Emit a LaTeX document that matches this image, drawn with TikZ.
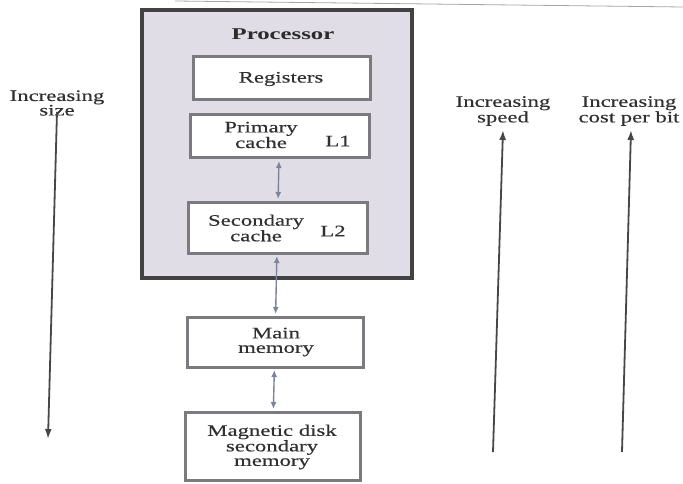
\documentclass[tikz,border=0pt]{standalone}
\usepackage{fontspec}
\usetikzlibrary{arrows.meta}
\newfontfamily\lbl[FakeStretch=1.42,FakeBold=0.35]{Liberation Serif}
\newfontfamily\lblbf[FakeStretch=1.5]{Liberation Serif Bold}
\definecolor{txt}{HTML}{303030}
\definecolor{procfill}{HTML}{E0DDE6}
\definecolor{procedge}{HTML}{424242}
\definecolor{boxedge}{HTML}{7A7A80}
\definecolor{link}{HTML}{7E829A}
\definecolor{axis}{HTML}{474747}
\tikzset{
  lab/.style={text=txt, font=\lbl\fontsize{16}{14.5}\selectfont, align=center, inner sep=0pt},
  membox/.style={draw=boxedge, line width=3pt, fill=white, inner sep=0pt},
  biarrow/.style={draw=link, line width=1.4pt, {Latex[length=7pt,width=6pt]}-{Latex[length=7pt,width=6pt]}, shorten <=1.5pt, shorten >=1.5pt},
  trend/.style={draw=axis, line width=1.8pt, -{Latex[length=10pt,width=7pt]}}
}
\begin{document}
\begin{tikzpicture}[x=1pt,y=-1pt]
\useasboundingbox (0,0) rectangle (683,484);
% thin rule along the top edge
\draw[gray!70, line width=0.8pt] (175,1) -- (683,7);

% processor enclosure
\node[draw=procedge, fill=procfill, line width=4pt, minimum width=270pt, minimum height=268pt, inner sep=0pt] (proc) at (277,144) {};
\node[lab, font=\lblbf\fontsize{16.5}{14}\selectfont, text=txt!90!black] (proclab) at (283,34) {Processor};

% memory levels
\node[membox, minimum width=177pt, minimum height=43pt] (reg) at (281.5,78.5) {};
\node[lab] (reglab) at (281,79) {Registers};

\node[membox, minimum width=179pt, minimum height=43pt] (l1) at (279.5,136.5) {};
\node[lab] (l1lab) at (261,135) {Primary\\cache};
\node[lab] (l1tag) at (338,141) {L1};

\node[membox, minimum width=179pt, minimum height=51pt] (l2) at (277.5,227.5) {};
\node[lab] (l2lab) at (256,228) {Secondary\\cache};
\node[lab] (l2tag) at (333,231) {L2};

\node[membox, minimum width=176pt, minimum height=50pt] (main) at (275,342) {};
\node[lab] (mainlab) at (276,342) {Main\\memory};

\node[membox, minimum width=175pt, minimum height=68pt] (disk) at (272.5,446) {};
\node[lab] (disklab) at (272,447) {Magnetic disk\\secondary\\memory};

% transfers between adjacent levels
\draw[biarrow] (l1) -- (l2);
\draw[biarrow] (l2) -- (main);
\draw[biarrow] (main) -- (disk);

% trend axes
\node[lab] (size) at (57,103) {Increasing\\size};
\coordinate (sizeend) at (48,439);
\draw[trend] ([yshift=4pt]size.south) -- (sizeend);

\node[lab] (speed) at (503,111) {Increasing\\speed};
\coordinate (speedstart) at (493,452);
\draw[trend] (speedstart) -- ([yshift=-4pt]speed.south);

\node[lab] (cost) at (629,111) {Increasing\\cost per bit};
\coordinate (coststart) at (622,452);
\draw[trend] (coststart) -- ([yshift=-4pt,xshift=2pt]cost.south);
\end{tikzpicture}
\end{document}
